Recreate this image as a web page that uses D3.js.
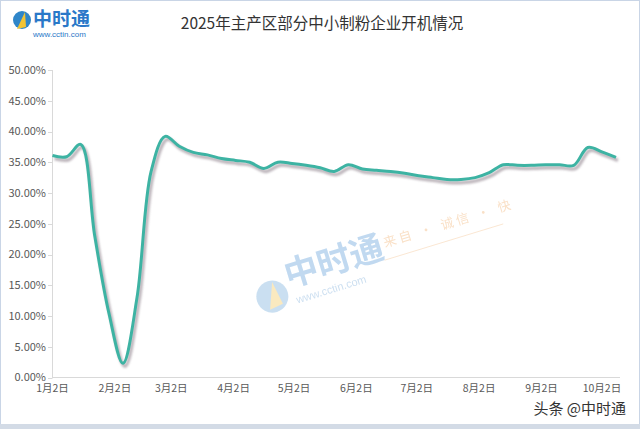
<!DOCTYPE html>
<html><head><meta charset="utf-8">
<script src="https://cdn.jsdelivr.net/npm/d3@7"></script>
<style>html,body{margin:0;padding:0;background:#fff;}svg{display:block;}</style>
</head><body>
<svg id="c" width="640" height="429"></svg>
<script>
const dates = ["2025-01-02","2025-01-09","2025-01-16","2025-01-23","2025-01-30","2025-02-06","2025-02-13","2025-02-20","2025-02-27","2025-03-06","2025-03-13","2025-03-20","2025-03-27","2025-04-03","2025-04-10","2025-04-17","2025-04-24","2025-05-01","2025-05-08","2025-05-15","2025-05-22","2025-05-29","2025-06-05","2025-06-12","2025-06-19","2025-06-26","2025-07-03","2025-07-10","2025-07-17","2025-07-24","2025-07-31","2025-08-07","2025-08-14","2025-08-21","2025-08-28","2025-09-04","2025-09-11","2025-09-18","2025-09-25","2025-10-02","2025-10-09"];
const values = [36.1,35.9,37.9,23.0,10.5,2.3,13.0,33.5,39.2,37.6,36.6,36.2,35.6,35.3,35.0,34.0,35.0,34.8,34.5,34.1,33.5,34.6,33.9,33.7,33.5,33.2,32.8,32.5,32.2,32.2,32.5,33.3,34.6,34.5,34.5,34.6,34.6,34.5,37.4,36.7,35.8];
const yTicks = [0,5,10,15,20,25,30,35,40,45,50];
const xTickDates = ["2025-01-02","2025-02-02","2025-03-02","2025-04-02","2025-05-02","2025-06-02","2025-07-02","2025-08-02","2025-09-02","2025-10-02"];
const title = "2025年主产区部分中小制粉企业开机情况";

const parse = d3.timeParse("%Y-%m-%d");
const data = dates.map((d,i)=>({date:parse(d), v:values[i]}));
const svg = d3.select("#c");
const font = "'Noto Sans CJK SC','Microsoft YaHei',sans-serif";

// frame
svg.append("rect").attr("x",0.5).attr("y",0.5).attr("width",639).attr("height",428)
  .attr("fill","#fff").attr("stroke","#c9d5e6").attr("stroke-width",1);
svg.append("rect").attr("x",0).attr("y",424).attr("width",640).attr("height",5).attr("fill","#d3dbe6");

const x = d3.scaleTime().domain([parse("2025-01-02"), parse("2025-10-10")]).range([52.5, 618]);
const y = d3.scaleLinear().domain([0,50]).range([377.5, 70]);

// defs
const defs = svg.append("defs");
const f = defs.append("filter").attr("id","sh").attr("x","-5%").attr("y","-5%").attr("width","110%").attr("height","110%");
f.append("feGaussianBlur").attr("stdDeviation",1.2);

// watermark
const wm = svg.append("g").attr("transform","translate(318,268) rotate(-17)").attr("opacity",0.35);
wm.append("circle").attr("cx",-52).attr("cy",14).attr("r",16).attr("fill","#6aa6d8");
wm.append("path").attr("d","M-58,26 L-48,0 L-44,24 Z").attr("fill","#f2c24a");
wm.append("text").attr("x",-34).attr("y",10).attr("font-family",font).attr("font-weight","bold")
  .attr("font-size",34).attr("fill","#4f95d6").text("中时通");
wm.append("text").attr("x",-30).attr("y",28).attr("font-family","Arial,sans-serif")
  .attr("font-size",11).attr("fill","#6ea4d6").text("www.cctin.com");
wm.append("text").attr("x",70).attr("y",0).attr("font-family",font)
  .attr("font-size",13).attr("fill","#f0a860").attr("letter-spacing",3).text("来自 · 诚信 · 快");
wm.append("line").attr("x1",66).attr("y1",12).attr("x2",190).attr("y2",12).attr("stroke","#f0b070").attr("stroke-width",0.8);

// axes
svg.append("line").attr("x1",52.5).attr("x2",52.5).attr("y1",70).attr("y2",378).attr("stroke","#d9d9d9");
svg.append("line").attr("x1",52.5).attr("x2",620).attr("y1",377.5).attr("y2",377.5).attr("stroke","#d9d9d9");

const yAxis = svg.append("g");
yAxis.selectAll("line").data(yTicks).join("line")
  .attr("x1",48).attr("x2",52.5).attr("y1",d=>Math.round(y(d))+0.5).attr("y2",d=>Math.round(y(d))+0.5).attr("stroke","#d9d9d9");
yAxis.selectAll("text").data(yTicks).join("text")
  .attr("x",46).attr("y",d=>y(d)).attr("dy","0.35em").attr("text-anchor","end")
  .attr("font-family",font).attr("font-size",11).attr("fill","#595959")
  .text(d=>d.toFixed(2)+"%");

const fmt = d3.timeFormat("%-m月%-d日");
svg.append("g").selectAll("text").data(xTickDates.map(parse)).join("text")
  .attr("x",d=>x(d)).attr("y",392).attr("text-anchor","middle")
  .attr("font-family",font).attr("font-size",10.5).attr("fill","#595959")
  .text(d=>fmt(d));

// line
const line = d3.line().x(d=>x(d.date)).y(d=>y(d.v)).curve(d3.curveCatmullRom.alpha(0.5));
svg.append("path").datum(data).attr("d",line).attr("fill","none")
  .attr("stroke","#a89ea6").attr("stroke-width",3.5).attr("opacity",0.75)
  .attr("transform","translate(2,3)").attr("filter","url(#sh)");
svg.append("path").datum(data).attr("d",line).attr("fill","none")
  .attr("stroke","#3db3a3").attr("stroke-width",3).attr("stroke-linejoin","round");

// title
svg.append("text").attr("x",322).attr("y",29).attr("text-anchor","middle")
  .attr("font-family",font).attr("font-size",15.5).attr("fill","#333").text(title);

// logo
const lg = svg.append("g");
lg.append("circle").attr("cx",22).attr("cy",20).attr("r",9).attr("fill","#2f86c9");
lg.append("path").attr("d","M17,29 L25,12 L26,27 Z").attr("fill","#f3c433");
lg.append("text").attr("x",33).attr("y",26).attr("font-family",font).attr("font-weight","bold")
  .attr("font-size",19).attr("fill","#2a78c8").text("中时通");
lg.append("text").attr("x",33).attr("y",37).attr("font-family","Arial,sans-serif")
  .attr("font-size",8).attr("fill","#2a78c8").text("www.cctin.com");

// footer
svg.append("text").attr("x",626).attr("y",414).attr("text-anchor","end")
  .attr("font-family",font).attr("font-size",15).attr("fill","#333").text("头条 @中时通");
</script>
</body></html>
